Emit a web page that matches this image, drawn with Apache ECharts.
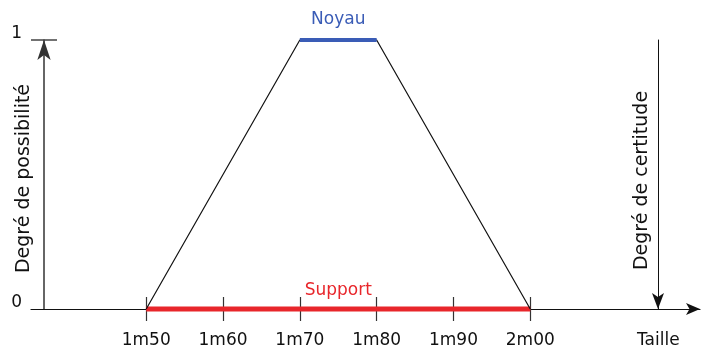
<!DOCTYPE html>
<html>
<head>
<meta charset="utf-8">
<script src="https://cdn.jsdelivr.net/npm/echarts@6/dist/echarts.min.js"></script>
<style>
  html, body { margin: 0; padding: 0; background: #fff; }
  #chart { width: 701px; height: 351px; }
</style>
</head>
<body>
<div id="chart"></div>
<script>
  // valeurs de la taille (m) et libellés
  const tailleTicks = [1.5, 1.6, 1.7, 1.8, 1.9, 2.0];
  const tailleLabels = ['1m50', '1m60', '1m70', '1m80', '1m90', '2m00'];
  const taillePos = 2.1667;
  const tailleName = 'Taille';

  // fonction d'appartenance trapézoïdale
  const membershipX = [1.5, 1.7, 1.8, 2.0];
  const membershipY = [0, 1, 1, 0];
  const noyau = [1.7, 1.8];
  const support = [1.5, 2.0];

  const font = 'DejaVu Sans, sans-serif';
  const chart = echarts.init(document.getElementById('chart'));

  const labelFor = (v) => {
    if (Math.abs(v - taillePos) < 0.01) return tailleName;
    let best = 0;
    tailleTicks.forEach((t, i) => {
      if (Math.abs(t - v) < Math.abs(tailleTicks[best] - v)) best = i;
    });
    return tailleLabels[best];
  };

  const xBase = { type: 'value', min: 1.35, max: 2.221, position: 'bottom', splitLine: { show: false } };
  const yBase = { type: 'value', min: 0, max: 1, splitLine: { show: false } };

  chart.setOption({
    animation: false,
    grid: { left: 31, right: 1, top: 40, bottom: 42, outerBoundsMode: 'none', containLabel: false },
    xAxis: [
      {
        ...xBase,
        axisLine: {
          show: true,
          symbol: ['none', 'arrow'],
          symbolSize: [9, 14],
          lineStyle: { color: '#111', width: 1.2 },
        },
        axisTick: {
          show: true,
          customValues: tailleTicks,
          length: 12,
          lineStyle: { color: '#333', width: 1.2 },
        },
        axisLabel: {
          customValues: tailleTicks.concat([taillePos]),
          formatter: labelFor,
          margin: 23,
          color: '#111',
          fontFamily: font,
          fontSize: 17,
        },
      },
      {
        ...xBase,
        axisLine: { show: false },
        axisTick: {
          show: true,
          inside: true,
          customValues: tailleTicks,
          length: 12,
          lineStyle: { color: '#333', width: 1.2 },
        },
        axisLabel: { show: false },
      },
    ],
    yAxis: [
      {
        ...yBase,
        position: 'left',
        offset: -13,
        name: 'Degré de possibilité',
        nameLocation: 'middle',
        nameRotate: 90,
        nameGap: 10,
        nameMoveOverlap: false,
        nameTextStyle: { color: '#111', fontFamily: font, fontSize: 19, padding: [0, 8, 0, 0] },
        axisLine: {
          show: true,
          symbol: ['none', 'arrow'],
          symbolSize: [10, 20],
          lineStyle: { color: '#333', width: 1.5 },
        },
        axisTick: {
          show: true,
          customValues: [1],
          length: 13,
          lineStyle: { color: '#444', width: 1.5 },
        },
        axisLabel: {
          customValues: [0, 1],
          margin: 22,
          verticalAlign: 'bottom',
          lineHeight: 12,
          color: '#111',
          fontFamily: font,
          fontSize: 17,
        },
      },
      {
        ...yBase,
        position: 'left',
        offset: -13,
        axisLine: { show: false },
        axisTick: {
          show: true,
          inside: true,
          customValues: [1],
          length: 13,
          lineStyle: { color: '#444', width: 1.5 },
        },
        axisLabel: { show: false },
      },
      {
        ...yBase,
        position: 'right',
        offset: -42,
        name: 'Degré de certitude',
        nameLocation: 'middle',
        nameRotate: 90,
        nameGap: -25,
        nameMoveOverlap: false,
        nameTextStyle: { color: '#111', fontFamily: font, fontSize: 19, padding: [0, 12, 0, 0] },
        axisLine: {
          show: true,
          symbol: ['arrow', 'none'],
          symbolSize: [9, 16],
          lineStyle: { color: '#111', width: 1 },
        },
        axisTick: { show: false },
        axisLabel: { show: false },
      },
    ],
    series: [
      {
        type: 'line',
        data: membershipX.map((x, i) => [x, membershipY[i]]),
        symbol: 'none',
        clip: false,
        lineStyle: { color: '#111', width: 1.2 },
      },
      {
        type: 'line',
        data: support.map((x) => [x, 0]),
        symbol: 'none',
        clip: false,
        z: 1,
        lineStyle: { color: '#e8262b', width: 5 },
      },
      {
        type: 'line',
        data: noyau.map((x) => [x, 1]),
        symbol: 'none',
        clip: false,
        lineStyle: { color: '#3a5cb6', width: 4 },
      },
      {
        type: 'scatter',
        symbolSize: 0,
        clip: false,
        itemStyle: { opacity: 1 },
        data: [
          { value: [(noyau[0] + noyau[1]) / 2, 1], label: { formatter: 'Noyau', color: '#3a5cb6', distance: 12 } },
          { value: [(support[0] + support[1]) / 2, 0], label: { formatter: 'Support', color: '#e8262b', distance: 10 } },
        ],
        label: {
          show: true,
          position: 'top',
          fontFamily: font,
          fontSize: 17,
        },
      },
    ],
  });
</script>
</body>
</html>
